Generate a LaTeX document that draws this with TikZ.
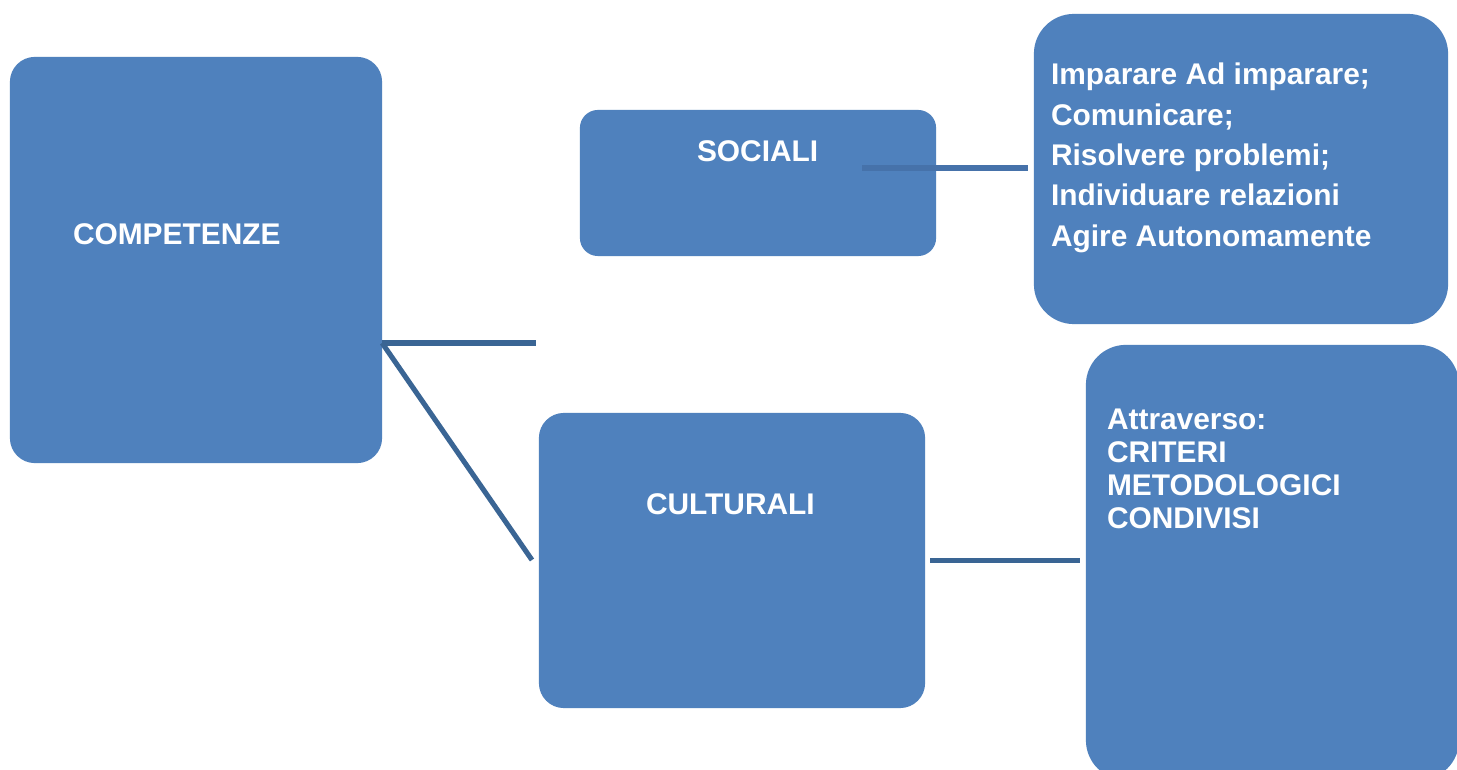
\documentclass[tikz,border=0pt]{standalone}
\usepackage{fontspec}
\setmainfont{Liberation Sans}
\definecolor{boxblue}{HTML}{4F81BD}
\definecolor{linedark}{HTML}{3A6594}
\definecolor{linemid}{HTML}{4672AA}
\begin{document}
\begin{tikzpicture}[x=0.01cm,y=-0.01cm,
  box/.style={fill=boxblue, draw=none, inner sep=0pt, outer sep=0pt},
  lbl/.style={text=white, font=\fontsize{8.5pt}{11.5pt}\selectfont\bfseries, inner sep=0pt, outer sep=0pt},
  conn/.style={line width=1.45pt},
]
\path[use as bounding box, clip] (0,0) rectangle (1457,770);
\fill[white] (0,0) rectangle (1457,770);

% boxes
\node[box, rounded corners=0.25cm, minimum width=3.72cm, minimum height=4.06cm] (comp) at (196,260) {};
\node[box, rounded corners=0.18cm, minimum width=3.56cm, minimum height=1.46cm] (soc) at (758,183) {};
\node[box, rounded corners=0.4cm, minimum width=4.14cm, minimum height=3.10cm] (rt) at (1241,169) {};
\node[box, rounded corners=0.25cm, minimum width=3.86cm, minimum height=2.95cm] (cult) at (732,560.5) {};
\node[box, rounded corners=0.4cm, minimum width=3.73cm, minimum height=4.35cm] (rb) at (1272.5,562.5) {};

% labels
\node[lbl, anchor=base west] (compT) at (73,245) {COMPETENZE};
\node[lbl, anchor=base west] (socT) at (697,162) {SOCIALI};
\node[lbl, anchor=base west] (cultT) at (646,514) {CULTURALI};
\node[lbl, anchor=north west, align=left, font=\fontsize{8.5pt}{11.5pt}\selectfont\bfseries] (rtT) at (1051,63)
  {Imparare Ad imparare;\\Comunicare;\\Risolvere problemi;\\Individuare relazioni\\Agire Autonomamente};
\node[lbl, anchor=north west, align=left, font=\fontsize{8.5pt}{9.4pt}\selectfont\bfseries] (rbT) at (1107,408.5)
  {Attraverso:\\CRITERI\\METODOLOGICI\\CONDIVISI};

% connectors
\coordinate (j1) at (536,343);
\coordinate (j2) at (532,560);
\coordinate (s1) at (862,168);
\draw[conn, linedark] (comp.east |- j1) -- (j1);
\draw[conn, linedark] (comp.east |- j1) -- (j2);
\draw[conn, linemid, shorten >=0.06cm] (s1) -- (rt.west |- s1);
\draw[conn, linedark, shorten <=0.05cm, shorten >=0.06cm] (cult.east) -- (rb.west |- cult.east);
\end{tikzpicture}
\end{document}
